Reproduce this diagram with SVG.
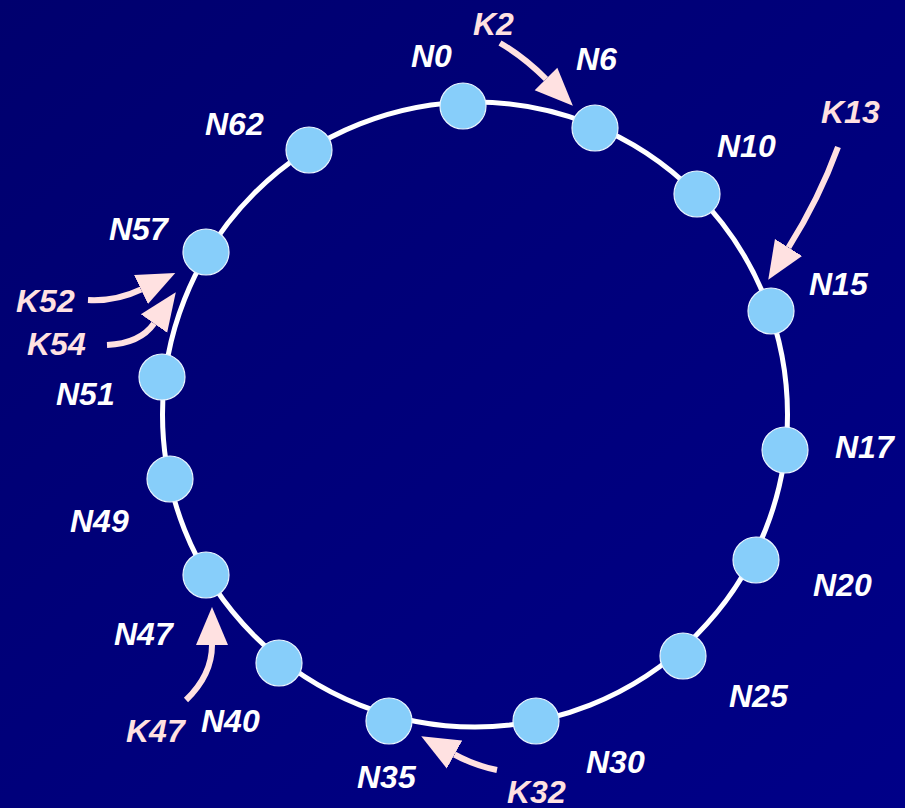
<svg xmlns="http://www.w3.org/2000/svg" width="905" height="808" viewBox="0 0 905 808">
  <defs>
    <linearGradient id="bg" x1="0" y1="0" x2="1" y2="1">
      <stop offset="0" stop-color="#00006E"/>
      <stop offset="1" stop-color="#000088"/>
    </linearGradient>
    <marker id="head" markerUnits="userSpaceOnUse" markerWidth="40" markerHeight="34" refX="0" refY="16" orient="auto" viewBox="0 0 40 32">
      <polygon points="0,0 38,16 0,32" fill="#FFE1E1"/>
    </marker>
    <style>
      .ring { fill: none; stroke: #FFFFFF; stroke-width: 5; }
      .node circle { fill: #87CEFA; stroke: #E8F4FF; stroke-width: 1.2; }
      .lbl { font-family: "Liberation Sans", Arial, sans-serif; font-size: 32px; font-weight: bold; font-style: italic; }
      .node text { fill: #FFFFFF; }
      .key text { fill: #FFE1E1; }
      .ptr { fill: none; stroke: #FFE1E1; stroke-width: 6; marker-end: url(#head); }
    </style>
  </defs>

  <rect width="905" height="808" fill="url(#bg)"/>

  <!-- identifier circle -->
  <circle class="ring" cx="475" cy="414.5" r="312.5"/>

  <!-- key pointers -->
  <g id="connectors">
    <path class="ptr" d="M500,43 Q524,57 546,79"/>
    <path class="ptr" d="M838,147 Q819,199 788.5,247.5"/>
    <path class="ptr" d="M497,770 Q474.6,765.6 454.5,754.5"/>
    <path class="ptr" d="M186,700 Q212,675 212,645"/>
    <path class="ptr" d="M88,300 Q116,301.5 141,289.5"/>
    <path class="ptr" d="M107,345 Q140,343.5 154,323.5"/>
  </g>

  <!-- nodes -->
  <g id="N0" class="node"><circle cx="463" cy="106" r="23"/><text class="lbl" x="411" y="67">N0</text></g>
  <g id="N6" class="node"><circle cx="595" cy="128" r="23"/><text class="lbl" x="576" y="70">N6</text></g>
  <g id="N10" class="node"><circle cx="697" cy="194" r="23"/><text class="lbl" x="717" y="157">N10</text></g>
  <g id="N15" class="node"><circle cx="771" cy="311" r="23"/><text class="lbl" x="809" y="295">N15</text></g>
  <g id="N17" class="node"><circle cx="785" cy="450" r="23"/><text class="lbl" x="835" y="458">N17</text></g>
  <g id="N20" class="node"><circle cx="756" cy="560" r="23"/><text class="lbl" x="813" y="596">N20</text></g>
  <g id="N25" class="node"><circle cx="683" cy="656" r="23"/><text class="lbl" x="729" y="707">N25</text></g>
  <g id="N30" class="node"><circle cx="536" cy="721" r="23"/><text class="lbl" x="586" y="773">N30</text></g>
  <g id="N35" class="node"><circle cx="389" cy="721" r="23"/><text class="lbl" x="357" y="788">N35</text></g>
  <g id="N40" class="node"><circle cx="279" cy="663" r="23"/><text class="lbl" x="201" y="732">N40</text></g>
  <g id="N47" class="node"><circle cx="206" cy="575" r="23"/><text class="lbl" x="114" y="645">N47</text></g>
  <g id="N49" class="node"><circle cx="170" cy="479" r="23"/><text class="lbl" x="70" y="532">N49</text></g>
  <g id="N51" class="node"><circle cx="162" cy="377" r="23"/><text class="lbl" x="56" y="405">N51</text></g>
  <g id="N57" class="node"><circle cx="206" cy="252" r="23"/><text class="lbl" x="109" y="240">N57</text></g>
  <g id="N62" class="node"><circle cx="309" cy="150" r="23"/><text class="lbl" x="205" y="135">N62</text></g>

  <!-- keys -->
  <g id="K2" class="key"><text class="lbl" x="473" y="35">K2</text></g>
  <g id="K13" class="key"><text class="lbl" x="821" y="123">K13</text></g>
  <g id="K32" class="key"><text class="lbl" x="507" y="803">K32</text></g>
  <g id="K47" class="key"><text class="lbl" x="126" y="742">K47</text></g>
  <g id="K52" class="key"><text class="lbl" x="16" y="312">K52</text></g>
  <g id="K54" class="key"><text class="lbl" x="27" y="355">K54</text></g>
</svg>
